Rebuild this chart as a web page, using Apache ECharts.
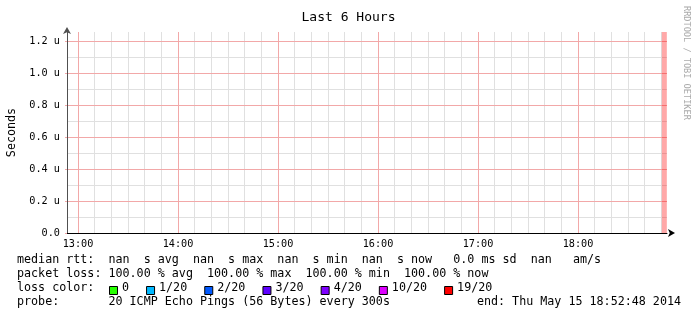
<!DOCTYPE html>
<html>
<head>
<meta charset="utf-8">
<script src="https://cdn.jsdelivr.net/npm/echarts@6/dist/echarts.min.js"></script>
<style>
html,body{margin:0;padding:0;background:#fff;}
#chart{width:697px;height:321px;}
</style>
</head>
<body>
<div id="chart"></div>
<script>
// ---- data ----
const chartTitle = 'Last 6 Hours';
const axisName = 'Seconds';
const startTime = '12:53:24';
const endTime = '18:53:24';
const hourTicks = ['13:00', '14:00', '15:00', '16:00', '17:00', '18:00'];
const yTickValues = [0, 0.2, 0.4, 0.6, 0.8, 1.0, 1.2]; // micro-seconds
const yMinorValues = [0.1, 0.3, 0.5, 0.7, 0.9, 1.1];
const yMax = 1.256;
const lossBarTimes = ['18:51:48'];
const lossBarValues = [1.256];
const lossLabels = ['0', '1/20', '2/20', '3/20', '4/20', '10/20', '19/20'];
const lossColors = ['#26ff00', '#00b8ff', '#0059ff', '#5e00ff', '#7e00ff', '#dd00ff', '#ff0000'];
const statLine1 = 'median rtt:  nan  s avg  nan  s max  nan  s min  nan  s now   0.0 ms sd  nan   am/s';
const statLine2 = 'packet loss: 100.00 % avg  100.00 % max  100.00 % min  100.00 % now';
const statLine3 = 'loss color:';
const statLine4 = 'probe:       20 ICMP Echo Pings (56 Bytes) every 300s';
const endText = 'end: Thu May 15 18:52:48 2014';
const watermark = 'RRDTOOL / TOBI OETIKER';

// ---- helpers ----
function toMs(t) {
  const p = t.split(':').map(Number);
  return Date.UTC(2014, 4, 15, p[0], p[1], p[2] || 0);
}
const MONO = 'DejaVu Sans Mono';
const xMin = toMs(startTime), xMax = toMs(endTime);
const xLabelVals = hourTicks.map(toMs);
const xMinorVals = [];
for (let t = xLabelVals[0]; t < xMax; t += 600000) {
  if (xLabelVals.indexOf(t) < 0) xMinorVals.push(t);
}

const RED = '#f2a8a8', GRAY = '#e0e0e0';

const chart = echarts.init(document.getElementById('chart'), null, {renderer: 'canvas'});

// legend graphics
const CW = 7.05;
const graphics = [];
const lines = [statLine1, statLine2, statLine3, statLine4];
const lineY = [261, 275, 289, 303];
lines.forEach((s, i) => {
  graphics.push({type: 'text', x: 17, y: lineY[i] - 7, style: {text: s, font: '11.7px "' + MONO + '"', fill: '#000'}});
});
graphics.push({type: 'text', right: 16, top: lineY[3] - 7, style: {text: endText, font: '11.7px "' + MONO + '"', fill: '#000'}});
let lx = 109.5;
lossLabels.forEach((lab, i) => {
  graphics.push({type: 'rect', shape: {x: lx, y: 286.5, width: 8, height: 8}, style: {fill: lossColors[i], stroke: '#000', lineWidth: 1}});
  graphics.push({type: 'text', x: lx + 12.5, y: lineY[2] - 7, style: {text: lab, font: '11.7px "' + MONO + '"', fill: '#000'}});
  lx += 12.5 + lab.length * CW + 17.5;
});
graphics.push({type: 'text', x: 691, y: 6, rotation: -Math.PI / 2, style: {text: watermark, font: '8.6px "' + MONO + '"', fill: '#aaaaaa'}});

const option = {
  animation: false,
  backgroundColor: '#fff',
  title: {
    text: chartTitle, left: 'center', top: 6,
    textStyle: {fontFamily: MONO, fontSize: 13, fontWeight: 'normal', color: '#000'}
  },
  grid: {left: 67, right: 30, top: 32, bottom: 88, containLabel: false, outerBoundsMode: 'none'},
  xAxis: [{
    type: 'value', min: xMin, max: xMax, position: 'top',
    axisLine: {show: false}, axisLabel: {show: false},
    axisTick: {show: false, customValues: xMinorVals},
    splitLine: {show: true, lineStyle: {color: GRAY, width: 1}},
    z: 0
  }, {
    type: 'value', min: xMin, max: xMax, position: 'bottom',
    axisLine: {show: true, lineStyle: {color: '#000', width: 1}, symbol: ['none', 'arrow'], symbolSize: [6, 7], symbolOffset: [0, 8]},
    axisTick: {show: false, customValues: xLabelVals},
    axisLabel: {
      customValues: xLabelVals, margin: 6, color: '#000', fontFamily: MONO, fontSize: 10.2,
      formatter: v => { const d = new Date(v); return String(d.getUTCHours()).padStart(2, '0') + ':' + String(d.getUTCMinutes()).padStart(2, '0'); }
    },
    splitLine: {show: true, lineStyle: {color: RED, width: 1}},
    z: 1
  }],
  yAxis: [{
    type: 'value', min: 0, max: yMax, position: 'right',
    axisLine: {show: false}, axisLabel: {show: false},
    axisTick: {show: false, customValues: yMinorValues},
    splitLine: {show: true, lineStyle: {color: GRAY, width: 1}},
    z: 0
  }, {
    type: 'value', min: 0, max: yMax, position: 'left',
    name: axisName, nameLocation: 'middle', nameGap: 45, nameRotate: 90,
    nameTextStyle: {fontFamily: MONO, fontSize: 11.7, color: '#000'},
    axisLine: {show: true, lineStyle: {color: '#505050', width: 1}, symbol: ['none', 'arrow'], symbolSize: [6, 7], symbolOffset: [0, 5]},
    axisTick: {show: true, length: 2, customValues: yTickValues, lineStyle: {color: RED, width: 1}},
    axisLabel: {
      customValues: yTickValues, margin: 7, color: '#000', fontFamily: MONO, fontSize: 10.2,
      formatter: v => v === 0 ? '0.0' : v.toFixed(1) + ' u'
    },
    splitLine: {show: true, showMinLine: false, lineStyle: {color: RED, width: 1}},
    z: 1
  }],
  series: [{
    type: 'bar',
    xAxisIndex: 1, yAxisIndex: 1,
    data: lossBarTimes.map((t, i) => [toMs(t), lossBarValues[i]]),
    barWidth: 5,
    itemStyle: {color: 'rgba(255,0,0,0.34)'},
    silent: true
  }],
  graphic: graphics
};
chart.setOption(option);
</script>
</body>
</html>
